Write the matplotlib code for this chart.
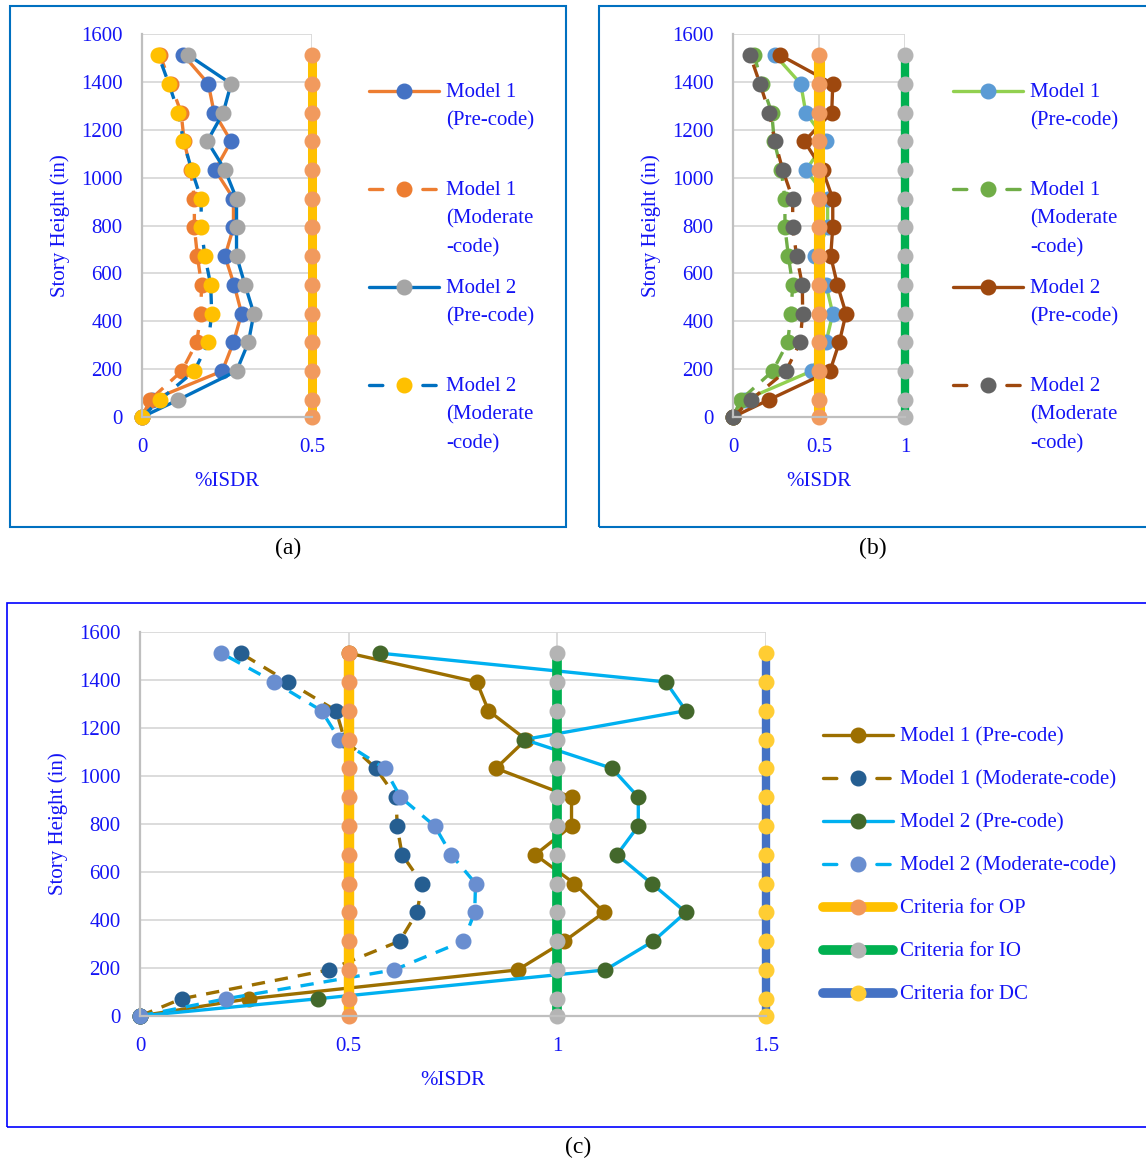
import matplotlib
matplotlib.use("Agg")
import matplotlib.pyplot as plt
from matplotlib.lines import Line2D
from matplotlib.patches import Rectangle

plt.rcParams['font.family'] = ['Liberation Serif', 'DejaVu Serif']

W, H = 1146, 1164

# story heights (in)
heights = [0, 72, 192, 312, 432, 552, 672, 792, 912, 1032, 1152, 1272, 1392, 1512]

# (a) %ISDR
a_m1_pre = [0, 0.03, 0.236, 0.269, 0.293, 0.271, 0.244, 0.269, 0.269, 0.215, 0.262, 0.212, 0.195, 0.122]
a_m1_mod = [0, 0.024, 0.117, 0.161, 0.173, 0.175, 0.163, 0.154, 0.154, 0.143, 0.124, 0.115, 0.084, 0.053]
a_m2_pre = [0, 0.107, 0.278, 0.313, 0.329, 0.303, 0.278, 0.278, 0.278, 0.244, 0.192, 0.239, 0.262, 0.136]
a_m2_mod = [0, 0.053, 0.154, 0.195, 0.205, 0.202, 0.185, 0.174, 0.174, 0.146, 0.122, 0.107, 0.079, 0.048]

# (b) %ISDR
b_m1_pre = [0, 0.07, 0.457, 0.541, 0.580, 0.541, 0.477, 0.55, 0.55, 0.424, 0.541, 0.423, 0.394, 0.244]
b_m1_mod = [0, 0.045, 0.231, 0.318, 0.337, 0.347, 0.322, 0.302, 0.302, 0.28, 0.24, 0.225, 0.167, 0.124]
b_m2_pre = [0, 0.209, 0.564, 0.618, 0.657, 0.607, 0.568, 0.580, 0.580, 0.521, 0.415, 0.574, 0.580, 0.273]
b_m2_mod = [0, 0.105, 0.308, 0.390, 0.405, 0.403, 0.370, 0.347, 0.347, 0.289, 0.244, 0.211, 0.157, 0.099]

# (c) %ISDR
c_m1_pre = [0, 0.262, 0.905, 1.017, 1.112, 1.041, 0.947, 1.034, 1.034, 0.853, 0.925, 0.835, 0.807, 0.5]
c_m1_mod = [0, 0.100, 0.452, 0.622, 0.664, 0.676, 0.628, 0.616, 0.614, 0.565, 0.49, 0.470, 0.355, 0.241]
c_m2_pre = [0, 0.427, 1.115, 1.230, 1.308, 1.226, 1.143, 1.194, 1.194, 1.131, 0.921, 1.308, 1.260, 0.574]
c_m2_mod = [0, 0.207, 0.608, 0.775, 0.802, 0.804, 0.746, 0.706, 0.624, 0.586, 0.478, 0.435, 0.321, 0.195]

# performance criteria limits
op_limit = 0.5
io_limit = 1.0
dc_limit = 1.5

TXT = '#1414F5'
DASH = (4, 3)
FS = 15


def fx(x):
    return x / W


def fy(y):
    return 1 - y / H


def setup_axes(ax, xmax, xticks, xlabels):
    ax.set_xlim(0, xmax)
    ax.set_ylim(0, 1600)
    ax.set_xticks(xticks)
    ax.set_xticklabels(xlabels)
    ax.set_yticks(range(0, 1601, 200))
    ax.grid(True, color='#D9D9D9', lw=1.3)
    ax.set_axisbelow(True)
    for s in ['top', 'right']:
        ax.spines[s].set_visible(False)
    for s in ['left', 'bottom']:
        ax.spines[s].set_color('#BFBFBF')
        ax.spines[s].set_linewidth(1.6)
    ax.tick_params(length=0, labelsize=FS, labelcolor=TXT)
    ax.tick_params(axis='y', pad=14)
    ax.tick_params(axis='x', pad=15)
    ax.set_ylabel('Story Height (in)', fontsize=FS, color=TXT, labelpad=8)
    ax.set_xlabel('%ISDR', fontsize=FS, color=TXT, labelpad=11)


def series(ax, x, lc, mc, dashed=False, lw=2.4, ms=10.5):
    line, = ax.plot(x, heights, color=lc, lw=lw, marker='o', ms=ms,
                    mfc=mc, mec=mc, clip_on=False)
    if dashed:
        line.set_dashes(DASH)
    return line


def criteria(ax, val, lc, mc, lw=6.5, ms=10.5):
    ax.plot([val] * len(heights), heights, color=lc, lw=lw, marker='o', ms=ms,
            mfc=mc, mec=mc, clip_on=False, solid_capstyle='butt')


def key(x0, y, text, lc, mc, dashed=False, lw=2.4, ms=10.5, spacing=1.65):
    x1 = x0 + 70
    ln = Line2D([fx(x0), fx(x1)], [fy(y), fy(y)], transform=fig.transFigure,
                color=lc, lw=lw, solid_capstyle='round', dash_capstyle='round')
    if dashed:
        ln.set_dashes((4, 12))
    fig.add_artist(ln)
    fig.add_artist(Line2D([fx(x0 + 35)], [fy(y)], transform=fig.transFigure,
                          marker='o', ms=ms, mfc=mc, mec=mc, ls='none'))
    fig.text(fx(x1 + 7), fy(y - 8), text, fontsize=FS, color=TXT,
             va='top', ha='left', linespacing=spacing)


fig = plt.figure(figsize=(W / 100, H / 100), dpi=100)

# panel frames
fig.add_artist(Rectangle((fx(10), fy(527)), fx(556), 521 / H, transform=fig.transFigure,
                         fill=False, ec='#0070C0', lw=1.5))
fig.add_artist(Rectangle((fx(599), fy(527)), fx(560), 521 / H, transform=fig.transFigure,
                         fill=False, ec='#0070C0', lw=1.5))
fig.add_artist(Rectangle((fx(7), fy(1127)), fx(1150), 524 / H, transform=fig.transFigure,
                         fill=False, ec='#0000FF', lw=1.2))

# (a)
ax_a = fig.add_axes([fx(142), fy(417), fx(170), 383 / H])
setup_axes(ax_a, 0.5, [0, 0.5], ['0', '0.5'])
series(ax_a, a_m1_pre, '#ED7D31', '#4472C4')
series(ax_a, a_m1_mod, '#ED7D31', '#ED7D31', dashed=True)
series(ax_a, a_m2_pre, '#0070C0', '#A5A5A5')
series(ax_a, a_m2_mod, '#0070C0', '#FFC000', dashed=True)
criteria(ax_a, op_limit, '#FFC000', '#F19A5E')

key(369, 91, 'Model 1\n(Pre-code)', '#ED7D31', '#4472C4')
key(369, 189, 'Model 1\n(Moderate\n-code)', '#ED7D31', '#ED7D31', dashed=True)
key(369, 287, 'Model 2\n(Pre-code)', '#0070C0', '#A5A5A5')
key(369, 385, 'Model 2\n(Moderate\n-code)', '#0070C0', '#FFC000', dashed=True)

# (b)
ax_b = fig.add_axes([fx(733), fy(417), fx(172), 383 / H])
setup_axes(ax_b, 1.0, [0, 0.5, 1], ['0', '0.5', '1'])
series(ax_b, b_m1_pre, '#92D050', '#5B9BD5')
series(ax_b, b_m1_mod, '#70AD47', '#70AD47', dashed=True)
series(ax_b, b_m2_pre, '#9E480E', '#9E480E')
series(ax_b, b_m2_mod, '#9E480E', '#636363', dashed=True)
criteria(ax_b, op_limit, '#FFC000', '#F19A5E', lw=8)
criteria(ax_b, io_limit, '#00B050', '#B4B4B4', lw=6)

key(953, 91, 'Model 1\n(Pre-code)', '#92D050', '#5B9BD5')
key(953, 189, 'Model 1\n(Moderate\n-code)', '#70AD47', '#70AD47', dashed=True)
key(953, 287, 'Model 2\n(Pre-code)', '#9E480E', '#9E480E')
key(953, 385, 'Model 2\n(Moderate\n-code)', '#9E480E', '#636363', dashed=True)

# (c)
ax_c = fig.add_axes([fx(140), fy(1016), fx(626), 384 / H])
setup_axes(ax_c, 1.5, [0, 0.5, 1, 1.5], ['0', '0.5', '1', '1.5'])
series(ax_c, c_m1_pre, '#9C6F00', '#9C6F00')
series(ax_c, c_m1_mod, '#9C6F00', '#255E91', dashed=True)
series(ax_c, c_m2_pre, '#00B0F0', '#43682B')
series(ax_c, c_m2_mod, '#00B0F0', '#698ED0', dashed=True)
criteria(ax_c, op_limit, '#FFC000', '#F1975A', lw=7.5)
criteria(ax_c, io_limit, '#00B050', '#B4B4B4', lw=7)
criteria(ax_c, dc_limit, '#4472C4', '#FFCD33', lw=6)

c_keys = [
    ('Model 1 (Pre-code)', '#9C6F00', '#9C6F00', False, 2.4),
    ('Model 1 (Moderate-code)', '#9C6F00', '#255E91', True, 2.4),
    ('Model 2 (Pre-code)', '#00B0F0', '#43682B', False, 2.4),
    ('Model 2 (Moderate-code)', '#00B0F0', '#698ED0', True, 2.4),
    ('Criteria for OP', '#FFC000', '#F1975A', False, 7),
    ('Criteria for IO', '#00B050', '#B4B4B4', False, 7),
    ('Criteria for DC', '#4472C4', '#FFCD33', False, 7),
]
for i, (lab, lc, mc, dsh, w) in enumerate(c_keys):
    key(823, 735 + 43 * i, lab, lc, mc, dashed=dsh, lw=w)

# panel captions
fig.text(fx(288), fy(548), '(a)', fontsize=17, ha='center', va='center')
fig.text(fx(873), fy(548), '(b)', fontsize=17, ha='center', va='center')
fig.text(fx(578), fy(1147), '(c)', fontsize=17, ha='center', va='center')

fig.savefig('out.png', dpi=100)
